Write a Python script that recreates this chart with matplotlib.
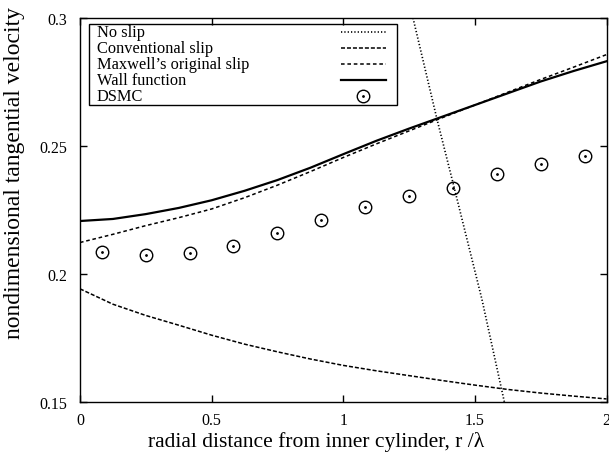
import matplotlib
matplotlib.use("Agg")
import matplotlib.pyplot as plt
from matplotlib.patches import Rectangle

plt.rcParams['font.family'] = ['Liberation Serif', 'DejaVu Serif']
plt.rcParams['lines.scale_dashes'] = False

# radial positions for the model curves
r = [0.0, 0.125, 0.25, 0.375, 0.5, 0.625, 0.75, 0.875, 1.0,
     1.125, 1.25, 1.375, 1.5, 1.625, 1.75, 1.875, 2.0]
wall_fn = [0.2207, 0.2215, 0.2234, 0.2258, 0.2288, 0.2325, 0.2367, 0.2415, 0.2468,
           0.2520, 0.2568, 0.2614, 0.2660, 0.2706, 0.2752, 0.2793, 0.2831]
maxwell = [0.2123, 0.2155, 0.2189, 0.2220, 0.2254, 0.2298, 0.2347, 0.2400, 0.2455,
           0.2508, 0.2559, 0.2610, 0.2660, 0.2710, 0.2760, 0.2808, 0.2857]
conv_slip = [0.1942, 0.1882, 0.1838, 0.1800, 0.1761, 0.1726, 0.1696, 0.1668, 0.1643,
             0.1622, 0.1603, 0.1584, 0.1566, 0.1549, 0.1535, 0.1523, 0.1512]

# no slip (only the visible part)
r_noslip = [1.265, 1.356, 1.422, 1.527, 1.612]
noslip = [0.300, 0.2605, 0.2335, 0.1900, 0.150]

# DSMC
r_dsmc = [0.083, 0.25, 0.417, 0.583, 0.75, 0.917, 1.083, 1.25, 1.417, 1.583, 1.75, 1.917]
dsmc = [0.2087, 0.2075, 0.2082, 0.2108, 0.2160, 0.2210, 0.2261, 0.2305, 0.2335,
        0.2389, 0.2428, 0.2459]

xticks = [0, 0.5, 1, 1.5, 2]
yticks = [0.15, 0.2, 0.25, 0.3]
xticklabels = ['0', '0.5', '1', '1.5', '2']
yticklabels = ['0.15', '0.2', '0.25', '0.3']

fig = plt.figure(figsize=(6.09, 4.56), dpi=100)
ax = fig.add_axes([80 / 609, 53 / 456, 526.5 / 609, 384 / 456])

dot_style = dict(color='black', lw=1.2, dashes=(0.9, 1.5))
conv_style = dict(color='black', lw=1.1, dashes=(2.9, 1.4))
max_style = dict(color='black', lw=1.1, dashes=(2.6, 2.0))
wall_style = dict(color='black', lw=1.6)
circ_style = dict(ls='none', marker='o', ms=9, mfc='none', mec='black', mew=1.0)
cdot_style = dict(ls='none', marker='o', ms=1.0, color='black')

ax.plot(r_noslip, noslip, **dot_style)
ax.plot(r, conv_slip, **conv_style)
ax.plot(r, maxwell, **max_style)
ax.plot(r, wall_fn, **wall_style)
ax.plot(r_dsmc, dsmc, **circ_style)
ax.plot(r_dsmc, dsmc, **cdot_style)

ax.set_xlim(0, 2)
ax.set_ylim(0.15, 0.3)
ax.set_xticks(xticks)
ax.set_xticklabels(xticklabels)
ax.set_yticks(yticks)
ax.set_yticklabels(yticklabels)
ax.tick_params(direction='in', top=True, right=True, length=5, width=1.0,
               labelsize=11.5)
ax.tick_params(axis='x', pad=7)
ax.tick_params(axis='y', pad=9)
for s in ax.spines.values():
    s.set_linewidth(1.0)

ax.set_xlabel('radial distance from inner cylinder, r /λ', fontsize=15.5)
ax.set_ylabel('nondimensional tangential velocity', fontsize=17)
ax.xaxis.set_label_coords(0.448, -0.075)
ax.yaxis.set_label_coords(-0.104, 0.598)

# gnuplot-style key: text on the left, sample on the right
ax.add_patch(Rectangle((0.017, 0.773), 0.585, 0.211, transform=ax.transAxes,
                       fill=False, ec='black', lw=1.0, zorder=5))
names = ['No slip', 'Conventional slip', "Maxwell\u2019s original slip",
         'Wall function', 'DSMC']
styles = [dot_style, conv_style, max_style, wall_style]
rows = [0.9635, 0.922, 0.880, 0.839, 0.797]
for i, name in enumerate(names):
    ax.text(0.032, rows[i], name, transform=ax.transAxes, fontsize=11.8,
            va='center', ha='left', zorder=6)
    if i < 4:
        ax.plot([0.496, 0.581], [rows[i], rows[i]], transform=ax.transAxes,
                zorder=6, **styles[i])
    else:
        ax.plot([0.538], [rows[i]], transform=ax.transAxes, zorder=6, **circ_style)
        ax.plot([0.538], [rows[i]], transform=ax.transAxes, zorder=6, **cdot_style)

fig.savefig('out.png', dpi=100)
